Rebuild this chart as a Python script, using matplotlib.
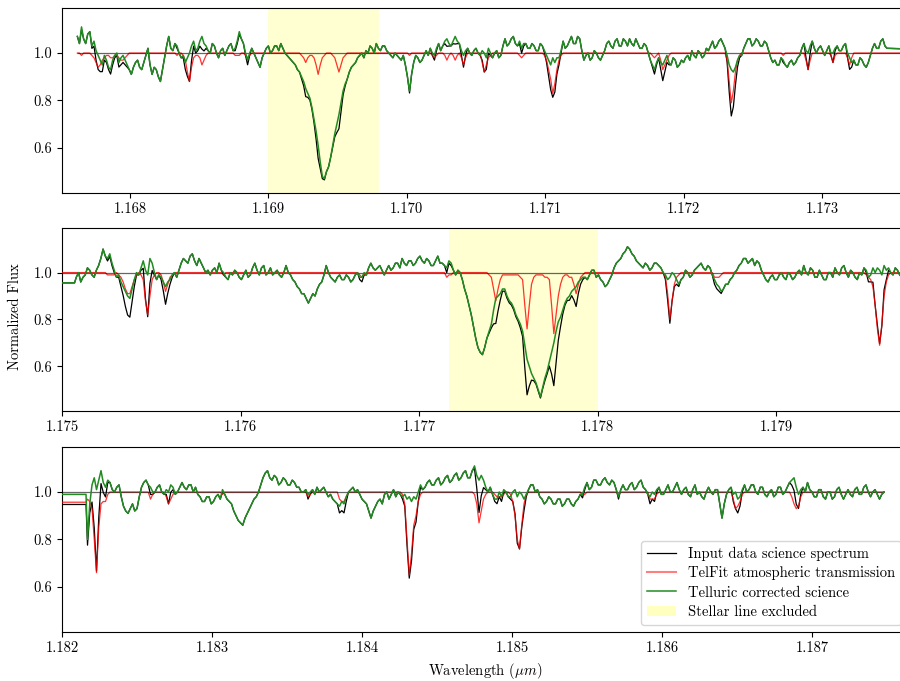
import matplotlib
matplotlib.use("Agg")
import matplotlib.pyplot as plt
import numpy as np
from matplotlib.patches import Patch
from matplotlib.ticker import FormatStrFormatter, MultipleLocator

plt.rcParams["font.family"] = "serif"
plt.rcParams["font.serif"] = ["cmr10", "DejaVu Serif"]
plt.rcParams["mathtext.fontset"] = "cm"
plt.rcParams["axes.unicode_minus"] = False
plt.rcParams["axes.formatter.use_mathtext"] = True
plt.rcParams["font.size"] = 10.5

CONTINUUM = 1.0

# --- order 1: 1.1676-1.1736 um, 0.015 nm sampling, one pixel past the gap at the end
P1_START, P1_STEP = 1.16762, 0.000015
P1_BEFORE, P1_AFTER = [], [1.17400]
P1_SPAN = (1.1690, 1.1698)
P1_XLIM = (1.167509, 1.173622)
P1_CORR = [
    1.07, 1.04, 1.11, 1.06, 1.04, 1.08, 1.09, 1.03, 1.05, 1.01, 0.99, 0.97, 0.95, 0.99, 0.97, 0.94, 0.93, 0.97, 0.99, 1.00,
    0.96, 0.98, 0.99, 0.97, 0.95, 0.93, 0.91, 0.94, 0.96, 0.97, 0.94, 0.93, 0.96, 0.99, 1.02, 0.95, 0.91, 0.94, 0.93, 0.90,
    0.88, 0.93, 0.98, 1.03, 1.07, 1.02, 1.01, 1.04, 1.03, 1.00, 0.98, 0.99, 0.96, 0.98, 1.00, 1.03, 1.05, 1.01, 1.02, 1.05,
    1.07, 1.04, 1.03, 1.01, 1.00, 1.04, 1.03, 1.00, 0.98, 1.01, 1.02, 0.99, 1.01, 1.03, 1.04, 1.01, 1.02, 1.05, 1.09, 1.06,
    1.04, 1.00, 0.97, 1.00, 1.02, 1.00, 0.98, 0.96, 0.94, 0.98, 1.00, 1.02, 1.03, 1.00, 1.01, 1.03, 1.03, 1.01, 1.04, 1.02,
    1.00, 0.99, 0.98, 0.97, 0.96, 0.95, 0.93, 0.92, 0.90, 0.88, 0.85, 0.83, 0.81, 0.77, 0.72, 0.67, 0.61, 0.54, 0.48, 0.47,
    0.50, 0.52, 0.56, 0.61, 0.66, 0.70, 0.74, 0.79, 0.84, 0.87, 0.89, 0.92, 0.94, 0.95, 0.96, 0.98, 0.99, 1.00, 0.98, 1.01,
    1.00, 1.03, 1.02, 1.00, 1.04, 1.02, 1.01, 1.03, 1.03, 1.01, 1.00, 0.99, 0.98, 1.00, 0.99, 0.98, 0.97, 0.99, 0.95, 0.90,
    0.84, 0.91, 0.96, 0.99, 0.98, 0.96, 0.97, 0.99, 1.01, 0.99, 1.02, 1.00, 0.99, 1.02, 1.04, 1.01, 1.03, 1.05, 1.06, 1.04,
    1.03, 1.05, 1.07, 1.05, 1.04, 1.01, 0.99, 1.01, 1.02, 1.00, 0.99, 1.01, 1.02, 1.00, 0.99, 1.01, 1.00, 0.98, 1.02, 1.00,
    0.98, 1.00, 1.01, 0.98, 0.99, 1.03, 1.06, 1.03, 1.04, 1.06, 1.07, 1.04, 1.03, 1.05, 1.02, 1.04, 1.04, 1.02, 1.02, 1.04,
    1.03, 1.01, 1.01, 1.04, 1.03, 1.01, 0.99, 0.97, 0.95, 0.98, 0.96, 0.98, 0.98, 1.01, 1.05, 1.02, 1.03, 1.05, 1.07, 1.04,
    1.04, 1.07, 1.06, 1.01, 0.97, 0.99, 1.00, 0.97, 0.98, 1.01, 1.00, 0.98, 0.97, 0.99, 1.01, 1.04, 1.05, 1.03, 1.02, 1.05,
    1.06, 1.03, 1.03, 1.06, 1.05, 1.03, 1.06, 1.04, 1.03, 1.06, 1.04, 1.02, 1.02, 1.04, 1.03, 1.00, 0.97, 0.95, 0.93, 0.96,
    0.98, 0.96, 0.95, 0.97, 0.99, 0.96, 0.95, 0.98, 0.97, 0.94, 0.95, 0.97, 0.96, 0.98, 0.99, 0.97, 1.01, 0.99, 0.98, 1.01,
    1.00, 0.98, 0.99, 1.02, 1.01, 1.03, 1.05, 1.02, 1.03, 1.05, 1.06, 1.04, 1.02, 0.99, 0.95, 0.93, 0.92, 0.94, 0.97, 0.99,
    0.99, 1.02, 1.04, 1.06, 1.06, 1.03, 1.04, 1.06, 1.05, 1.03, 1.03, 1.05, 1.04, 1.01, 0.98, 0.96, 0.97, 0.95, 0.95, 0.98,
    0.97, 0.95, 0.94, 0.96, 0.97, 0.95, 0.96, 0.98, 0.99, 1.02, 1.04, 1.01, 1.00, 1.03, 1.05, 1.02, 1.00, 1.02, 1.03, 1.01,
    0.99, 1.01, 1.03, 1.00, 1.00, 1.02, 1.03, 1.01, 1.01, 1.03, 1.04, 1.00, 0.98, 0.96, 0.97, 0.95, 0.95, 0.98, 0.97, 0.95,
    0.94, 0.96, 0.99, 1.02, 1.04, 1.02, 1.02, 1.05, 1.06, 1.03, 1.02, 1.01,
]
P1_TELL = [
    1.00, 1.00, 0.99, 1.00, 1.00, 1.00, 1.00, 0.99, 0.98, 0.96, 0.94, 0.95, 0.97, 0.98, 0.99, 0.99, 0.98, 0.98, 0.99, 0.99,
    0.98, 0.97, 0.97, 0.98, 0.99, 1.00, 1.00, 1.00, 1.00, 1.00, 1.00, 1.00, 1.00, 1.00, 1.00, 1.00, 1.00, 1.00, 1.00, 1.00,
    1.00, 1.00, 1.00, 1.00, 1.00, 1.00, 1.00, 1.00, 0.99, 1.00, 1.00, 0.99, 0.97, 0.92, 0.88, 0.94, 0.98, 0.99, 0.99, 0.98,
    0.95, 0.97, 0.99, 1.00, 1.00, 1.00, 1.00, 1.00, 1.00, 1.00, 1.00, 1.00, 1.00, 1.00, 1.00, 1.00, 0.99, 0.99, 0.99, 1.00,
    1.00, 0.99, 0.98, 0.99, 1.00, 1.00, 1.00, 1.00, 1.00, 1.00, 1.00, 1.00, 1.00, 1.00, 1.00, 1.00, 1.00, 1.00, 1.00, 1.00,
    1.00, 1.00, 1.00, 1.00, 1.00, 1.00, 1.00, 1.00, 0.99, 0.98, 0.96, 0.98, 0.99, 0.99, 0.98, 0.95, 0.91, 0.95, 0.98, 0.99,
    1.00, 1.00, 1.00, 0.99, 0.98, 0.95, 0.92, 0.95, 0.98, 0.99, 1.00, 1.00, 1.00, 1.00, 1.00, 1.00, 1.00, 1.00, 1.00, 1.00,
    1.00, 1.00, 1.00, 1.00, 1.00, 1.00, 1.00, 1.00, 1.00, 1.00, 1.00, 1.00, 1.00, 1.00, 1.00, 1.00, 1.00, 1.00, 1.00, 1.00,
    0.99, 1.00, 1.00, 1.00, 1.00, 1.00, 1.00, 1.00, 1.00, 1.00, 1.00, 0.99, 0.98, 0.99, 1.00, 1.00, 1.00, 0.99, 0.97, 0.99,
    1.00, 0.99, 0.97, 0.99, 1.00, 0.98, 0.95, 0.98, 1.00, 1.00, 1.00, 1.00, 1.00, 1.00, 1.00, 0.96, 0.92, 0.95, 0.98, 0.99,
    1.00, 1.00, 1.00, 1.00, 1.00, 1.00, 1.00, 1.00, 1.00, 1.00, 1.00, 1.00, 1.00, 0.99, 0.98, 0.99, 1.00, 1.00, 1.00, 1.00,
    1.00, 1.00, 1.00, 1.00, 1.00, 0.99, 0.97, 0.93, 0.89, 0.83, 0.87, 0.93, 0.97, 0.99, 1.00, 1.00, 1.00, 1.00, 1.00, 1.00,
    1.00, 1.00, 1.00, 1.00, 1.00, 1.00, 1.00, 1.00, 1.00, 1.00, 1.00, 1.00, 1.00, 1.00, 1.00, 1.00, 1.00, 1.00, 1.00, 1.00,
    1.00, 1.00, 1.00, 1.00, 1.00, 1.00, 1.00, 1.00, 1.00, 1.00, 1.00, 1.00, 1.00, 1.00, 1.00, 1.00, 1.00, 0.99, 0.98, 0.99,
    1.00, 0.97, 0.93, 0.95, 0.97, 0.99, 1.00, 1.00, 1.00, 1.00, 1.00, 1.00, 1.00, 1.00, 1.00, 1.00, 1.00, 1.00, 1.00, 1.00,
    1.00, 1.00, 1.00, 1.00, 1.00, 1.00, 1.00, 1.00, 1.00, 1.00, 1.00, 1.00, 1.00, 0.97, 0.88, 0.79, 0.84, 0.92, 0.97, 0.99,
    1.00, 1.00, 1.00, 1.00, 1.00, 1.00, 1.00, 1.00, 1.00, 1.00, 1.00, 1.00, 1.00, 1.00, 1.00, 1.00, 1.00, 1.00, 1.00, 1.00,
    0.99, 1.00, 1.00, 1.00, 1.00, 1.00, 1.00, 1.00, 1.00, 1.00, 1.00, 0.97, 0.93, 0.97, 1.00, 1.00, 1.00, 1.00, 1.00, 1.00,
    1.00, 1.00, 1.00, 0.99, 0.96, 0.99, 1.00, 1.00, 1.00, 1.00, 1.00, 0.98, 0.95, 0.98, 1.00, 1.00, 1.00, 1.00, 1.00, 1.00,
    1.00, 1.00, 1.00, 1.00, 1.00, 1.00, 1.00, 1.00, 1.00, 1.00, 1.00, 1.00,
]

# --- order 2: 1.1750-1.1797 um, 0.0125 nm sampling, two pixels before the left edge
P2_START, P2_STEP = 1.17508, 0.0000125
P2_BEFORE, P2_AFTER = [1.17480, 1.17507], []
P2_SPAN = (1.17717, 1.17800)
P2_XLIM = (1.175, 1.179739)
P2_CORR = [
    0.956, 0.956,
    0.98, 1.00, 0.96, 0.98, 0.99, 1.02, 1.01, 0.99, 0.98, 1.01, 1.03, 1.06, 1.10, 1.07, 1.06, 1.08, 1.04, 1.01, 0.98, 0.99,
    0.96, 0.94, 0.92, 0.90, 0.89, 0.93, 0.97, 1.00, 0.99, 1.02, 1.05, 1.01, 0.99, 1.06, 1.04, 1.00, 0.97, 0.99, 0.98, 0.96,
    0.94, 0.96, 0.97, 0.99, 1.00, 0.98, 1.01, 1.04, 1.06, 1.05, 1.04, 1.07, 1.08, 1.05, 1.03, 1.06, 1.04, 1.02, 1.00, 1.01,
    0.99, 1.01, 1.02, 1.00, 1.04, 1.01, 1.00, 0.98, 0.97, 1.00, 0.99, 1.01, 1.00, 0.98, 0.97, 0.99, 1.01, 0.98, 0.99, 1.02,
    1.04, 1.01, 0.99, 1.02, 1.03, 0.99, 1.00, 1.02, 0.99, 1.00, 1.01, 0.99, 0.98, 1.00, 1.03, 1.00, 0.99, 0.97, 0.96, 0.94,
    0.93, 0.91, 0.91, 0.89, 0.87, 0.89, 0.91, 0.90, 0.93, 0.95, 0.96, 0.99, 1.03, 1.00, 0.98, 0.97, 0.96, 0.98, 0.99, 0.97,
    0.97, 0.99, 0.98, 0.96, 0.97, 0.99, 1.00, 0.98, 0.98, 1.00, 0.99, 1.02, 1.04, 1.02, 1.01, 1.02, 1.03, 1.01, 0.99, 1.01,
    1.03, 1.01, 1.02, 1.04, 1.04, 1.02, 1.06, 1.04, 1.03, 1.05, 1.05, 1.03, 1.04, 1.06, 1.07, 1.05, 1.04, 1.06, 1.05, 1.03,
    1.03, 1.05, 1.07, 1.04, 1.04, 1.03, 1.02, 1.05, 1.04, 1.01, 0.99, 1.01, 1.00, 0.97, 0.93, 0.90, 0.86, 0.82, 0.77, 0.72,
    0.68, 0.66, 0.65, 0.68, 0.72, 0.75, 0.78, 0.84, 0.89, 0.90, 0.91, 0.93, 0.93, 0.90, 0.88, 0.87, 0.85, 0.82, 0.80, 0.78,
    0.75, 0.69, 0.63, 0.60, 0.57, 0.55, 0.53, 0.50, 0.47, 0.51, 0.55, 0.58, 0.62, 0.66, 0.70, 0.75, 0.79, 0.81, 0.84, 0.87,
    0.89, 0.90, 0.92, 0.93, 0.94, 0.96, 0.97, 0.98, 0.98, 0.97, 0.99, 1.01, 1.01, 0.98, 0.99, 0.97, 0.96, 0.94, 0.95, 0.97,
    0.99, 1.02, 1.04, 1.05, 1.06, 1.08, 1.09, 1.11, 1.10, 1.08, 1.07, 1.05, 1.04, 1.03, 1.02, 1.04, 1.03, 1.01, 1.02, 1.04,
    1.04, 1.03, 1.02, 1.00, 0.99, 0.97, 0.98, 1.00, 0.99, 0.97, 0.95, 0.97, 0.98, 1.01, 1.00, 0.98, 0.99, 1.01, 1.02, 1.03,
    1.04, 1.02, 1.01, 1.03, 1.02, 0.99, 0.97, 0.95, 0.94, 0.92, 0.93, 0.95, 0.95, 0.97, 0.98, 1.00, 1.01, 1.03, 1.04, 1.06,
    1.06, 1.04, 1.05, 1.06, 1.03, 1.05, 1.04, 1.01, 0.99, 0.97, 0.96, 0.98, 0.99, 0.97, 0.97, 0.99, 1.00, 0.98, 0.97, 1.00,
    0.99, 0.97, 0.98, 1.00, 1.01, 0.99, 1.03, 1.00, 0.99, 1.02, 1.01, 0.98, 0.98, 1.01, 0.99, 0.97, 0.97, 1.00, 1.00, 0.98,
    1.02, 1.00, 0.99, 1.02, 1.03, 1.00, 0.98, 1.01, 1.00, 0.98, 0.97, 1.00, 0.99, 1.02, 1.01, 0.98, 0.99, 1.02, 1.00, 1.02,
    1.01, 0.99, 1.03, 1.01, 1.02, 1.00, 0.99, 1.02, 1.01, 0.99, 0.98, 1.01, 1.00,
]
P2_TELL = [
    1.00, 1.00,
    1.00, 1.00, 1.00, 1.00, 1.00, 1.00, 1.00, 1.00, 1.00, 1.00, 1.00, 1.00, 1.00, 1.00, 0.99, 0.99, 0.99, 0.99, 1.00, 0.99,
    0.98, 0.96, 0.93, 0.91, 0.91, 0.94, 0.97, 0.99, 1.00, 0.99, 0.97, 0.88, 0.82, 0.90, 0.97, 0.99, 1.00, 1.00, 0.99, 0.96,
    0.92, 0.95, 0.98, 0.99, 1.00, 1.00, 1.00, 1.00, 1.00, 1.00, 1.00, 1.00, 1.00, 1.00, 1.00, 1.00, 1.00, 1.00, 1.00, 1.00,
    1.00, 1.00, 1.00, 1.00, 1.00, 1.00, 0.99, 1.00, 1.00, 1.00, 1.00, 1.00, 1.00, 1.00, 1.00, 1.00, 1.00, 1.00, 1.00, 1.00,
    1.00, 1.00, 1.00, 1.00, 1.00, 1.00, 1.00, 1.00, 1.00, 1.00, 1.00, 1.00, 1.00, 1.00, 1.00, 1.00, 1.00, 1.00, 1.00, 1.00,
    1.00, 1.00, 1.00, 1.00, 1.00, 1.00, 1.00, 1.00, 1.00, 1.00, 1.00, 1.00, 1.00, 1.00, 1.00, 1.00, 1.00, 1.00, 1.00, 1.00,
    1.00, 1.00, 1.00, 1.00, 1.00, 1.00, 1.00, 0.99, 0.98, 0.99, 1.00, 1.00, 1.00, 1.00, 1.00, 1.00, 1.00, 1.00, 1.00, 1.00,
    1.00, 1.00, 1.00, 1.00, 1.00, 1.00, 1.00, 1.00, 1.00, 1.00, 1.00, 1.00, 1.00, 1.00, 1.00, 1.00, 1.00, 1.00, 1.00, 1.00,
    1.00, 1.00, 1.00, 1.00, 1.00, 1.00, 0.98, 0.99, 0.99, 1.00, 1.00, 1.00, 1.00, 1.00, 1.00, 1.00, 1.00, 1.00, 1.00, 1.00,
    1.00, 1.00, 1.00, 1.00, 1.00, 0.99, 0.98, 0.93, 0.88, 0.93, 0.97, 0.99, 0.99, 0.99, 0.99, 0.99, 0.99, 0.99, 0.99, 0.98,
    0.97, 0.86, 0.76, 0.86, 0.95, 0.98, 0.99, 0.99, 0.99, 0.99, 0.98, 0.98, 0.97, 0.86, 0.74, 0.82, 0.90, 0.95, 0.98, 0.99,
    0.99, 0.98, 0.98, 0.95, 0.91, 0.95, 0.98, 0.99, 1.00, 1.00, 1.00, 1.00, 1.00, 1.00, 1.00, 1.00, 1.00, 1.00, 1.00, 1.00,
    1.00, 1.00, 1.00, 1.00, 1.00, 1.00, 1.00, 1.00, 1.00, 1.00, 1.00, 1.00, 1.00, 1.00, 1.00, 1.00, 1.00, 1.00, 1.00, 1.00,
    1.00, 1.00, 1.00, 1.00, 0.98, 0.91, 0.80, 0.88, 0.95, 0.98, 0.99, 1.00, 1.00, 1.00, 1.00, 1.00, 1.00, 1.00, 1.00, 1.00,
    1.00, 1.00, 1.00, 1.00, 1.00, 1.00, 0.98, 0.98, 0.98, 0.99, 1.00, 1.00, 1.00, 1.00, 1.00, 1.00, 1.00, 1.00, 1.00, 1.00,
    1.00, 1.00, 1.00, 1.00, 1.00, 1.00, 1.00, 1.00, 1.00, 1.00, 1.00, 1.00, 1.00, 1.00, 1.00, 1.00, 1.00, 1.00, 1.00, 1.00,
    1.00, 1.00, 1.00, 1.00, 1.00, 1.00, 1.00, 1.00, 1.00, 1.00, 1.00, 1.00, 1.00, 1.00, 1.00, 1.00, 1.00, 1.00, 1.00, 1.00,
    1.00, 1.00, 1.00, 1.00, 1.00, 1.00, 1.00, 1.00, 1.00, 1.00, 1.00, 1.00, 1.00, 1.00, 0.99, 0.98, 0.97, 0.94, 0.86, 0.76,
    0.69, 0.78, 0.90, 0.96, 0.99, 1.00, 1.00, 1.00, 1.00, 1.00, 1.00, 1.00, 1.00,
]

# --- order 3: 1.1820-1.1876 um, 0.015 nm sampling, two pixels before the left edge
P3_START, P3_STEP = 1.18217, 0.000015
P3_BEFORE, P3_AFTER = [1.18180, 1.18216], []
P3_SPAN = None
P3_XLIM = (1.182, 1.18764)
P3_CORR = [
    0.99, 0.99,
    0.80, 0.95, 1.03, 1.06, 1.01, 1.05, 1.09, 1.04, 1.02, 1.05, 1.04, 1.01, 1.00, 1.02, 1.03, 0.98, 0.94, 0.92, 0.91, 0.93,
    0.95, 0.92, 0.93, 0.98, 1.02, 1.04, 1.05, 1.03, 1.02, 1.00, 1.00, 1.02, 1.03, 1.00, 0.99, 1.01, 1.00, 1.03, 1.02, 0.99,
    1.00, 1.02, 1.04, 1.02, 1.01, 1.03, 1.03, 1.00, 1.02, 0.99, 0.98, 0.96, 0.96, 0.98, 0.98, 0.95, 0.96, 0.98, 0.99, 0.97,
    1.01, 0.99, 0.97, 0.96, 0.95, 0.92, 0.90, 0.88, 0.87, 0.86, 0.89, 0.91, 0.93, 0.95, 0.97, 0.98, 1.00, 1.03, 1.06, 1.08,
    1.09, 1.06, 1.05, 1.07, 1.06, 1.03, 1.04, 1.06, 1.05, 1.03, 1.03, 1.05, 1.04, 1.02, 1.02, 1.00, 1.00, 1.01, 0.99, 1.00,
    1.01, 0.99, 1.02, 1.00, 1.01, 1.02, 1.00, 0.98, 0.99, 0.97, 0.96, 0.95, 0.94, 0.96, 0.95, 0.98, 1.00, 1.01, 1.02, 1.00,
    1.01, 0.99, 0.97, 0.96, 0.95, 0.92, 0.89, 0.92, 0.94, 0.96, 0.97, 0.95, 0.99, 1.00, 0.97, 0.99, 1.01, 0.98, 1.00, 0.99,
    0.98, 0.99, 0.97, 0.98, 0.96, 0.98, 0.97, 1.00, 1.03, 1.01, 1.02, 1.04, 1.05, 1.03, 1.03, 1.05, 1.06, 1.03, 1.04, 1.06,
    1.07, 1.04, 1.05, 1.07, 1.08, 1.05, 1.06, 1.08, 1.09, 1.06, 1.06, 1.09, 1.11, 1.07, 1.05, 1.07, 1.05, 1.02, 1.00, 1.02,
    0.99, 0.97, 0.97, 1.00, 0.98, 1.01, 1.00, 0.98, 0.98, 1.00, 1.01, 0.98, 1.00, 0.99, 0.97, 0.99, 1.01, 1.03, 1.03, 1.00,
    1.01, 0.98, 0.97, 0.95, 0.96, 0.98, 0.97, 0.95, 0.95, 0.97, 0.97, 0.94, 0.95, 0.97, 0.97, 0.95, 0.94, 0.96, 0.97, 0.99,
    0.99, 1.02, 1.04, 1.01, 1.02, 1.05, 1.05, 1.03, 1.03, 1.05, 1.06, 1.04, 1.03, 1.05, 1.04, 1.01, 0.98, 1.01, 1.03, 1.01,
    1.01, 1.03, 1.04, 1.01, 1.02, 1.04, 1.05, 1.02, 1.01, 0.99, 0.98, 1.00, 0.99, 1.01, 1.02, 0.99, 0.99, 1.01, 1.03, 1.00,
    1.00, 1.02, 1.04, 1.01, 0.99, 1.01, 1.02, 0.99, 0.98, 1.01, 1.03, 0.99, 1.00, 0.98, 0.97, 1.00, 1.02, 1.00, 0.99, 1.01,
    1.01, 0.95, 0.89, 0.95, 0.99, 1.01, 1.02, 0.99, 1.00, 0.97, 0.98, 1.01, 1.03, 1.00, 1.01, 1.03, 1.03, 1.00, 0.99, 1.02,
    1.02, 0.99, 0.98, 1.00, 1.01, 0.98, 0.99, 1.02, 1.02, 0.99, 1.00, 1.02, 1.04, 1.05, 1.06, 1.02, 0.99, 1.01, 1.02, 1.00,
    1.04, 1.01, 1.00, 0.98, 0.98, 1.01, 1.01, 0.98, 0.97, 1.00, 1.00, 0.97, 0.98, 1.01, 1.02, 0.99, 0.97, 0.99, 1.01, 0.99,
    0.98, 1.01, 1.02, 0.99, 0.99, 1.02, 1.03, 1.00, 0.98, 1.00, 1.01, 0.99, 0.97, 0.99, 1.00,
]
P3_TELL = [
    0.957, 0.957,
    0.97, 0.96, 0.93, 0.80, 0.66, 0.85, 0.95, 0.96, 0.96, 0.99, 1.00, 1.00, 1.00, 1.00, 1.00, 1.00, 1.00, 1.00, 1.00, 1.00,
    1.00, 1.00, 1.00, 1.00, 1.00, 1.00, 1.00, 1.00, 0.97, 0.99, 1.00, 1.00, 1.00, 1.00, 1.00, 0.98, 0.95, 0.97, 0.99, 1.00,
    1.00, 1.00, 1.00, 1.00, 1.00, 1.00, 1.00, 1.00, 1.00, 1.00, 1.00, 1.00, 1.00, 1.00, 1.00, 1.00, 1.00, 1.00, 1.00, 1.00,
    0.99, 1.00, 1.00, 1.00, 1.00, 1.00, 1.00, 1.00, 1.00, 1.00, 1.00, 1.00, 1.00, 1.00, 1.00, 1.00, 1.00, 1.00, 1.00, 1.00,
    1.00, 1.00, 1.00, 1.00, 1.00, 1.00, 1.00, 1.00, 1.00, 1.00, 1.00, 1.00, 1.00, 1.00, 1.00, 1.00, 1.00, 1.00, 0.98, 0.99,
    1.00, 1.00, 1.00, 1.00, 1.00, 1.00, 1.00, 1.00, 1.00, 1.00, 1.00, 1.00, 0.97, 0.96, 0.96, 0.98, 1.00, 1.00, 1.00, 1.00,
    1.00, 1.00, 1.00, 1.00, 1.00, 1.00, 1.00, 1.00, 1.00, 1.00, 1.00, 1.00, 1.00, 1.00, 1.00, 1.00, 1.00, 1.00, 1.00, 1.00,
    0.99, 0.95, 0.80, 0.65, 0.74, 0.86, 0.90, 0.96, 0.99, 1.00, 1.00, 1.00, 1.00, 1.00, 1.00, 1.00, 1.00, 1.00, 1.00, 1.00,
    1.00, 1.00, 1.00, 1.00, 1.00, 1.00, 1.00, 1.00, 1.00, 1.00, 1.00, 1.00, 0.99, 0.95, 0.87, 0.92, 0.97, 0.99, 1.00, 1.00,
    1.00, 0.99, 0.98, 0.98, 0.98, 0.99, 1.00, 1.00, 0.99, 0.96, 0.90, 0.80, 0.76, 0.86, 0.95, 0.99, 1.00, 1.00, 1.00, 1.00,
    1.00, 1.00, 1.00, 1.00, 1.00, 1.00, 1.00, 1.00, 1.00, 1.00, 1.00, 1.00, 1.00, 1.00, 1.00, 1.00, 1.00, 1.00, 1.00, 1.00,
    0.985, 0.99, 1.00, 1.00, 1.00, 1.00, 1.00, 1.00, 1.00, 1.00, 1.00, 1.00, 1.00, 1.00, 1.00, 1.00, 0.99, 1.00, 1.00, 1.00,
    1.00, 1.00, 1.00, 1.00, 1.00, 1.00, 1.00, 1.00, 1.00, 1.00, 0.97, 0.97, 0.97, 0.99, 1.00, 1.00, 1.00, 1.00, 1.00, 1.00,
    1.00, 1.00, 1.00, 1.00, 1.00, 1.00, 1.00, 1.00, 1.00, 1.00, 1.00, 1.00, 1.00, 1.00, 1.00, 1.00, 1.00, 1.00, 1.00, 1.00,
    1.00, 1.00, 1.00, 1.00, 1.00, 1.00, 1.00, 0.97, 0.93, 0.94, 0.96, 0.99, 1.00, 1.00, 1.00, 1.00, 1.00, 1.00, 1.00, 1.00,
    1.00, 1.00, 1.00, 1.00, 1.00, 1.00, 1.00, 1.00, 1.00, 1.00, 1.00, 1.00, 1.00, 0.98, 0.95, 0.93, 0.94, 0.98, 1.00, 1.00,
    1.00, 1.00, 1.00, 1.00, 1.00, 1.00, 1.00, 1.00, 1.00, 1.00, 1.00, 1.00, 1.00, 1.00, 1.00, 1.00, 1.00, 1.00, 1.00, 1.00,
    1.00, 1.00, 1.00, 1.00, 1.00, 1.00, 1.00, 1.00, 1.00, 1.00, 1.00, 1.00, 1.00, 1.00, 1.00,
]

ORDERS = [
    (P1_START, P1_STEP, P1_BEFORE, P1_AFTER, P1_CORR, P1_TELL, P1_SPAN, P1_XLIM),
    (P2_START, P2_STEP, P2_BEFORE, P2_AFTER, P2_CORR, P2_TELL, P2_SPAN, P2_XLIM),
    (P3_START, P3_STEP, P3_BEFORE, P3_AFTER, P3_CORR, P3_TELL, P3_SPAN, P3_XLIM),
]

# axes boxes in figure fractions (left, bottom, width, height)
AX_BOXES = [
    (0.0689, 0.7166, 0.94, 0.2717),
    (0.0689, 0.3965, 0.94, 0.2687),
    (0.0689, 0.0720, 0.94, 0.2717),
]


def wavelengths(start, step, before, after, n_total):
    n_grid = n_total - len(before) - len(after)
    grid = start + step * np.arange(n_grid)
    return np.concatenate([before, grid, after])


fig = plt.figure(figsize=(9.0, 6.81), dpi=100)

axes = []
for box, (start, step, before, after, corr, tell, span, xlim) in zip(AX_BOXES, ORDERS):
    ax = fig.add_axes(box)
    corr = np.asarray(corr)
    tell = np.asarray(tell)
    if len(corr) != len(tell):
        print("length mismatch", len(corr), len(tell))
    wave = wavelengths(start, step, before, after, len(corr))
    # the observed spectrum is the corrected one times the telluric transmission
    science = corr * tell

    if span is not None:
        ax.axvspan(span[0], span[1], color="yellow", alpha=0.18, lw=0, zorder=0)
    ax.plot(wave, science, color="k", lw=0.9, zorder=2)
    ax.plot(wave, tell, color="red", lw=0.9, alpha=0.8, zorder=3)
    ax.hlines(CONTINUUM, wave.min(), wave.max(), colors="k", lw=0.9, alpha=0.6, zorder=3.5)
    ax.plot(wave, corr, color="forestgreen", lw=1.1, zorder=4)

    ax.set_xlim(*xlim)
    ax.set_ylim(0.41, 1.19)
    ax.set_yticks([0.6, 0.8, 1.0])
    ax.xaxis.set_major_locator(MultipleLocator(0.001))
    ax.xaxis.set_major_formatter(FormatStrFormatter("%.3f"))
    ax.yaxis.set_major_formatter(FormatStrFormatter("%.1f"))
    axes.append(ax)

axes[-1].set_xlabel(r"Wavelength ($\mu m$)")
fig.text(0.017, 0.5345, "Normalized Flux", rotation=90, ha="center", va="center")

handles = [
    plt.Line2D([], [], color="k", lw=0.9),
    plt.Line2D([], [], color="red", lw=1.5, alpha=0.5),
    plt.Line2D([], [], color="forestgreen", lw=1.1),
    Patch(facecolor="yellow", alpha=0.25, edgecolor="none"),
]
labels = [
    "Input data science spectrum",
    "TelFit atmospheric transmission",
    "Telluric corrected science",
    "Stellar line excluded",
]
axes[-1].legend(handles, labels, loc="lower right", fontsize=10.5, labelspacing=0.38)

fig.savefig("out.png", dpi=100)
